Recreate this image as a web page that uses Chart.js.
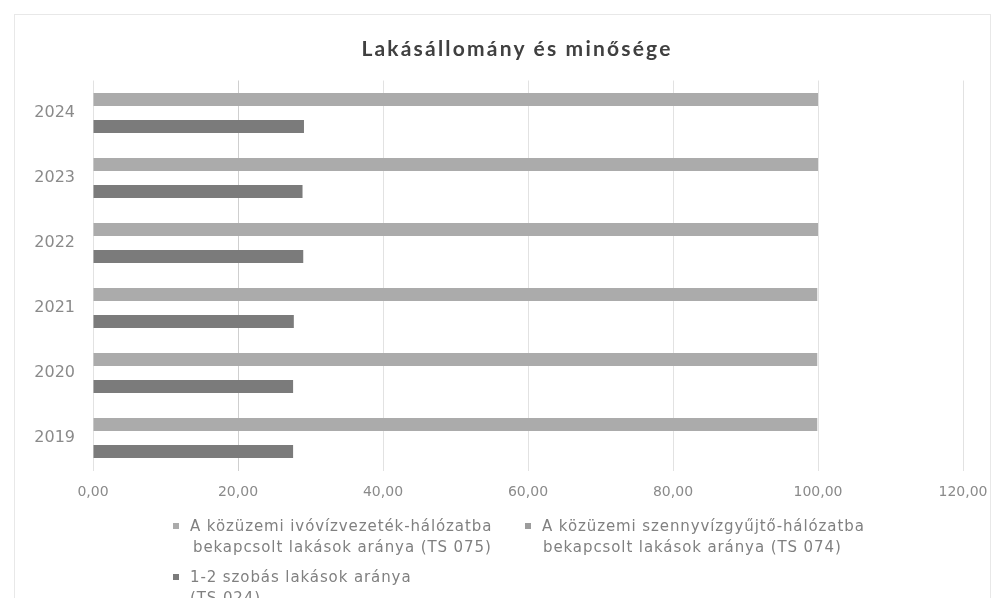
<!DOCTYPE html>
<html lang="hu">
<head>
<meta charset="utf-8">
<script src="https://cdn.jsdelivr.net/npm/chart.js@4.4.1/dist/chart.umd.min.js"></script>
<style>
  html, body { margin: 0; padding: 0; background: #fff; }
  #wrap { position: relative; width: 1007px; height: 598px; overflow: hidden; }
  #frame { position: absolute; left: 14px; top: 14px; width: 975px; height: 600px;
           border: 1px solid #e8e8e8; border-bottom: none; }
  #myChart { position: absolute; left: 0; top: 0; }
  #title { position: absolute; left: 0; width: 1034px; top: 35px; text-align: center;
           font: bold 21px Lato, sans-serif; color: #404040; letter-spacing: 2.2px; }
  .leg { position: absolute; font: 15px "DejaVu Sans", sans-serif; color: #808080; line-height: 21px;
         white-space: nowrap; letter-spacing: 0.9px; }
  .leg i { position: absolute; left: -17px; top: 7px; width: 6px; height: 6px; }
</style>
</head>
<body>
<div id="wrap">
  <div id="frame"></div>
  <canvas id="myChart" width="1007" height="598"></canvas>
  <div id="title">Lakásállomány és minősége</div>
  <div class="leg" style="left:190px; top:516px;"><i style="background:#ababab"></i>A közüzemi ivóvízvezeték-hálózatba<br><span style="padding-left:3px">bekapcsolt lakások aránya (TS 075)</span></div>
  <div class="leg" style="left:542px; top:516px;"><i style="background:#9c9c9c"></i>A közüzemi szennyvízgyűjtő-hálózatba<br><span style="padding-left:1px">bekapcsolt lakások aránya (TS 074)</span></div>
  <div class="leg" style="left:190px; top:567px;"><i style="background:#7b7b7b"></i>1-2 szobás lakások aránya<br>(TS 024)</div>
</div>

<script>
// --- Data ---
const years = ['2019', '2020', '2021', '2022', '2023', '2024'];
const ivovizData = [99.9, 99.9, 99.9, 100, 100, 100];      // TS 075
const szennyvizData = [null, null, null, null, null, null]; // TS 074 (nincs ábrázolva)
const szobasData = [27.6, 27.6, 27.7, 29.0, 28.9, 29.1];   // TS 024
const xTicks = [0, 20, 40, 60, 80, 100, 120];

const seriesNames = [
    'A közüzemi ivóvízvezeték-hálózatba bekapcsolt lakások aránya (TS 075)',
    'A közüzemi szennyvízgyűjtő-hálózatba bekapcsolt lakások aránya (TS 074)',
    '1-2 szobás lakások aránya (TS 024)'
];

function formatHu(v) {
    return v.toFixed(2).replace('.', ',');
}

const ctx = document.getElementById('myChart').getContext('2d');

new Chart(ctx, {
    type: 'bar',
    data: {
        labels: years,
        datasets: [
            { label: seriesNames[0], data: ivovizData, backgroundColor: '#ababab' },
            { label: seriesNames[1], data: szennyvizData, backgroundColor: '#9c9c9c' },
            { label: seriesNames[2], data: szobasData, backgroundColor: '#7b7b7b' }
        ]
    },
    options: {
        indexAxis: 'y',
        responsive: false,
        animation: false,
        categoryPercentage: 0.62,
        barPercentage: 0.96,
        layout: { padding: { left: 0, right: 44, top: 80.5, bottom: 97.5 } },
        plugins: {
            legend: { display: false },
            title: { display: false },
            tooltip: { enabled: false }
        },
        scales: {
            x: {
                min: 0,
                max: 120,
                afterBuildTicks: (scale) => { scale.ticks = xTicks.map(v => ({ value: v })); },
                afterFit: (scale) => { scale.height = 30; },
                grid: {
                    drawTicks: false,
                    tickLength: 0,
                    color: (c) => (c.tick && c.tick.value === 20) ? '#cfcfcf' : '#e2e2e2'
                },
                border: { display: false },
                ticks: {
                    padding: 13,
                    color: '#8a8a8a',
                    font: { family: 'DejaVu Sans', size: 14 },
                    callback: (v) => formatHu(v)
                }
            },
            y: {
                reverse: true,
                afterFit: (scale) => { scale.width = 93; },
                grid: { display: false, drawTicks: false },
                border: { display: false },
                ticks: {
                    padding: 18,
                    color: '#8a8a8a',
                    font: { family: 'DejaVu Sans', size: 16 }
                }
            }
        }
    }
});
</script>
</body>
</html>
